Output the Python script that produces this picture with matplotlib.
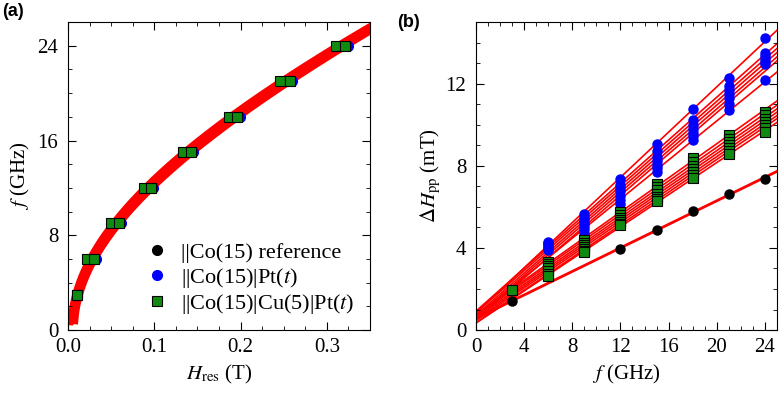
import numpy as np
import matplotlib.pyplot as plt
from matplotlib.ticker import MultipleLocator

plt.rcParams['font.family'] = ['Liberation Serif', 'DejaVu Serif']
plt.rcParams['mathtext.fontset'] = 'stix'

# ---- panel (a): resonance field vs frequency ----
freq_a = [3, 6, 9, 12, 15, 18, 21, 24]
h_ref = [np.nan, 0.026, 0.055, 0.092, 0.138, 0.191, 0.252, 0.316]
h_pt = [
    [np.nan, 0.032, 0.061, 0.099, 0.145, 0.199, 0.260, 0.324],
    [np.nan, 0.028, 0.057, 0.094, 0.140, 0.194, 0.255, 0.319],
]
h_cu = [
    [0.0108, 0.0215, 0.050, 0.0878, 0.133, 0.186, 0.246, 0.310],
    [0.0108, 0.030, 0.059, 0.0965, 0.142, 0.196, 0.257, 0.321],
]

# ---- panel (b): linewidth vs frequency ----
freq_b = [3, 6, 9, 12, 15, 18, 21, 24]
dh_ref = [1.42, np.nan, np.nan, 3.94, 4.89, 5.80, 6.64, 7.35]
dh_pt = [
    [np.nan, 4.30, 5.67, 7.37, 9.07, 10.77, 12.25, 14.20],
    [np.nan, 4.25, 5.50, 7.05, 8.70, 10.25, 11.90, 13.50],
    [np.nan, 4.20, 5.35, 6.90, 8.45, 10.00, 11.70, 13.35],
    [np.nan, 4.10, 5.20, 6.75, 8.25, 9.80, 11.50, 13.20],
    [np.nan, 4.05, 5.05, 6.55, 8.05, 9.60, 11.30, 13.05],
    [np.nan, 3.95, 4.90, 6.35, 7.90, 9.45, 11.00, 12.95],
    [np.nan, 3.90, 4.71, 6.16, 7.70, 9.27, 10.72, 12.18],
]
dh_cu = [
    [1.94, 3.33, 4.40, 5.73, 7.10, 8.38, 9.50, 10.60],
    [np.nan, 3.20, 4.25, 5.60, 6.95, 8.20, 9.30, 10.45],
    [np.nan, 3.10, 4.15, 5.45, 6.80, 8.00, 9.15, 10.30],
    [np.nan, 3.00, 4.05, 5.35, 6.65, 7.85, 9.00, 10.15],
    [np.nan, 2.90, 3.95, 5.25, 6.50, 7.70, 8.85, 10.00],
    [np.nan, 2.75, 3.85, 5.15, 6.40, 7.55, 8.70, 9.85],
    [np.nan, 2.65, 3.79, 5.10, 6.29, 7.40, 8.55, 9.65],
]

RED = '#ff0000'
BLUE = '#0000ff'
GREEN = '#108a10'


def kittel_fit(h, f):
    # generalised Kittel: f^2 = a H^2 + b H + c
    h = np.asarray(h, float)
    f = np.asarray(f, float)
    ok = ~np.isnan(h)
    return np.polyfit(h[ok], f[ok] ** 2, 2)


def linear_fit(f, dh):
    f = np.asarray(f, float)
    dh = np.asarray(dh, float)
    ok = ~np.isnan(dh)
    return np.polyfit(f[ok], dh[ok], 1)


def style_axes(ax):
    ax.tick_params(which='both', direction='in', top=True, right=True,
                   labelsize=15)
    ax.tick_params(axis='x', pad=6)
    ax.tick_params(axis='y', pad=7)
    ax.tick_params(which='major', length=6)
    ax.tick_params(which='minor', length=3)


fig = plt.figure(figsize=(7.79, 3.93), dpi=100)
ax1 = fig.add_axes([0.0873, 0.160, 0.3877, 0.784])
ax2 = fig.add_axes([0.611, 0.160, 0.3864, 0.784])

# panel (a)
hh = np.linspace(0.0, 0.36, 800)
for h in [h_ref] + h_pt + h_cu:
    p = kittel_fit(h, freq_a)
    f2 = np.polyval(p, hh)
    m = f2 > 0.2
    ax1.plot(hh[m], np.sqrt(f2[m]), color=RED, lw=3.5, zorder=1)
ax1.plot(h_ref, freq_a, 'o', color='black', ms=7, zorder=2)
for h in h_pt:
    ax1.plot(h, freq_a, 'o', color=BLUE, ms=7, zorder=3)
for h in h_cu:
    ax1.plot(h, freq_a, 's', color=GREEN, mec='black', mew=0.8, ms=7, zorder=4)

ax1.set_xlim(0, 0.35)
ax1.set_ylim(0, 26)
ax1.xaxis.set_major_locator(MultipleLocator(0.1))
ax1.xaxis.set_minor_locator(MultipleLocator(0.025))
ax1.yaxis.set_major_locator(MultipleLocator(8))
ax1.yaxis.set_minor_locator(MultipleLocator(2))
ax1.xaxis.set_major_formatter(lambda v, pos: f'{v:.1f}')
style_axes(ax1)
ax1.set_xlabel(r'$H_{\rm res}$ (T)', fontsize=15, labelpad=4)
ax1.set_ylabel(r'$f$ (GHz)', fontsize=15, labelpad=4)

h1, = ax1.plot([], [], 'o', color='black', ms=7)
h2, = ax1.plot([], [], 'o', color=BLUE, ms=7)
h3, = ax1.plot([], [], 's', color=GREEN, mec='black', mew=0.8, ms=7)
ax1.legend([h1, h2, h3],
           ['||Co(15) reference', r'||Co(15)|Pt($t$)', r'||Co(15)|Cu(5)|Pt($t$)'],
           loc='lower left', bbox_to_anchor=(0.25, 0.045), frameon=False,
           fontsize=16, handletextpad=0.5, labelspacing=0.12,
           borderaxespad=0, borderpad=0, handlelength=1.2)

# panel (b)
ff = np.array([0.0, 26.0])
for dh in dh_pt + dh_cu:
    p = linear_fit(freq_b, dh)
    ax2.plot(ff, np.polyval(p, ff), color=RED, lw=1.2, zorder=1)
p = linear_fit(freq_b, dh_ref)
ax2.plot(ff, np.polyval(p, ff), color=RED, lw=2, zorder=1)
ax2.plot(freq_b, dh_ref, 'o', color='black', ms=6.5, zorder=2)
for dh in dh_pt:
    ax2.plot(freq_b, dh, 'o', color=BLUE, ms=6.5, zorder=3)
for dh in dh_cu:
    ax2.plot(freq_b, dh, 's', color=GREEN, mec='black', mew=0.8, ms=6.5, zorder=4)

ax2.set_xlim(0, 25)
ax2.set_ylim(0, 15)
ax2.xaxis.set_major_locator(MultipleLocator(4))
ax2.xaxis.set_minor_locator(MultipleLocator(1))
ax2.yaxis.set_major_locator(MultipleLocator(4))
ax2.yaxis.set_minor_locator(MultipleLocator(1))
style_axes(ax2)
ax2.set_xlabel(r'$f$ (GHz)', fontsize=15, labelpad=4)
ax2.set_ylabel(r'$\mathit{\Delta H}_{\rm pp}$ (mT)', fontsize=15, labelpad=2)

fig.text(0.003, 0.97, '(a)', fontsize=13, fontweight='bold',
         family='Liberation Sans', va='center')
fig.text(0.510, 0.943, '(b)', fontsize=13, fontweight='bold',
         family='Liberation Sans', va='center')

fig.savefig('out.png', dpi=100)
